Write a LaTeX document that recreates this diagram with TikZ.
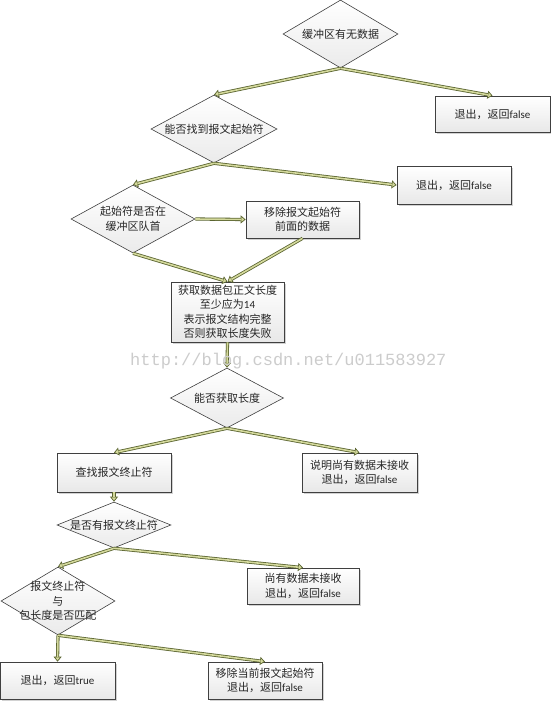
\documentclass[tikz,border=0pt]{standalone}
\usepackage{fontspec}
\setmainfont{Carlito}
\newfontfamily\cjk{Noto Sans CJK SC}
\newfontfamily\lat{Carlito}
\newfontfamily\wmfont{Liberation Mono}
\usetikzlibrary{shapes.geometric,arrows.meta,shadows}
\definecolor{arrdark}{HTML}{5A6430}
\definecolor{arrlight}{HTML}{D4D99C}
\definecolor{boxline}{HTML}{404040}
\begin{document}
\begin{tikzpicture}[x=1pt,y=-1pt,
  every node/.style={font=\cjk\fontsize{11}{14.5}\selectfont, align=center, text=black!85},
  proc/.style={rectangle, draw=boxline, line width=0.7pt, top color=white, bottom color=black!9,
    inner sep=0pt, minimum width=114pt, minimum height=37pt,
    drop shadow={shadow xshift=1.5pt, shadow yshift=-1.5pt, fill=black!35, opacity=0.5}},
  decision/.style={diamond, draw=boxline, line width=0.6pt, top color=white, bottom color=black!8, inner sep=0pt},
  dtext/.style={label={[align=center, inner sep=0pt]center:#1}},
  conn/.style={draw=arrdark, line width=3.2pt,
    -{Triangle[length=5pt, width=8pt, line width=0.7pt, fill=arrlight]},
    postaction={draw=arrlight, line width=1.6pt, -, shorten >=4.5pt}}
]
\useasboundingbox (0,0) rectangle (551,702);
\fill[white] (0,0) rectangle (551,702);

% decisions
\node[decision, minimum width=115pt, minimum height=68pt, dtext={缓冲区有无数据}] (d1) at (340.5,34) {};
\node[decision, minimum width=126pt, minimum height=68pt, dtext={能否找到报文起始符}] (d2) at (214,129) {};
\node[decision, minimum width=124pt, minimum height=68pt, dtext={起始符是否在\\缓冲区队首}] (d3) at (133,219) {};
\node[decision, minimum width=113pt, minimum height=60pt, dtext={能否获取长度}] (d4) at (227,398) {};
\node[decision, minimum width=114pt, minimum height=46pt, dtext={是否有报文终止符}] (d5) at (114,525) {};
\node[decision, minimum width=114pt, minimum height=68pt, dtext={报文终止符\\与\\包长度是否匹配}] (d6) at (58,601) {};

% processes
\node[proc, minimum width=115pt, minimum height=36pt] (b1) at (492.5,114) {退出，返回{\lat false}};
\node[proc, minimum width=114pt, minimum height=38pt] (b2) at (454,185) {退出，返回{\lat false}};
\node[proc, minimum width=113pt, minimum height=37pt] (b3) at (302.5,219.5) {移除报文起始符\\前面的数据};
\node[proc, minimum width=113pt, minimum height=60pt] (b4) at (227.5,312) {获取数据包正文长度\\至少应为{\lat 14}\\表示报文结构完整\\否则获取长度失败};
\node[proc, minimum width=114pt, minimum height=39pt] (b5) at (114,472.5) {查找报文终止符};
\node[proc, minimum width=115pt, minimum height=39pt] (b6) at (359.5,472.5) {说明尚有数据未接收\\退出，返回{\lat false}};
\node[proc, minimum width=112pt, minimum height=36pt] (b7) at (303,586) {尚有数据未接收\\退出，返回{\lat false}};
\node[proc, minimum width=115pt, minimum height=37pt] (b8) at (57.5,680.5) {退出，返回{\lat true}};
\node[proc, minimum width=114pt, minimum height=37pt] (b9) at (265,680.5) {移除当前报文起始符\\退出，返回{\lat false}};

% connectors
\draw[conn] (d1.south) -- (b1.north);
\draw[conn] (d1.south) -- (d2.north);
\draw[conn] (d2.south) -- (b2.west);
\draw[conn] (d2.south) -- (d3.north);
\draw[conn] (d3.east) -- (b3.west);
\draw[conn] (d3.south) -- (b4.north);
\draw[conn] (b3.south) -- (b4.north);
\draw[conn] (b4.south) -- (d4.north);
\draw[conn] (d4.south) -- (b5.north);
\draw[conn] (d4.south) -- (b6.north);
\draw[conn] (b5.south) -- (d5.north);
\draw[conn] (d5.south) -- (d6.north);
\draw[conn] (d5.south) -- (b7.north);
\draw[conn] (d6.south) -- (b8.north);
\draw[conn] (d6.south) -- (b9.north);

% watermark
\node[anchor=west, inner sep=0pt, font=\wmfont\fontsize{17}{17}\selectfont, text=black!20] (wm) at (130,361) {http://blog.csdn.net/u011583927};
\end{tikzpicture}
\end{document}
